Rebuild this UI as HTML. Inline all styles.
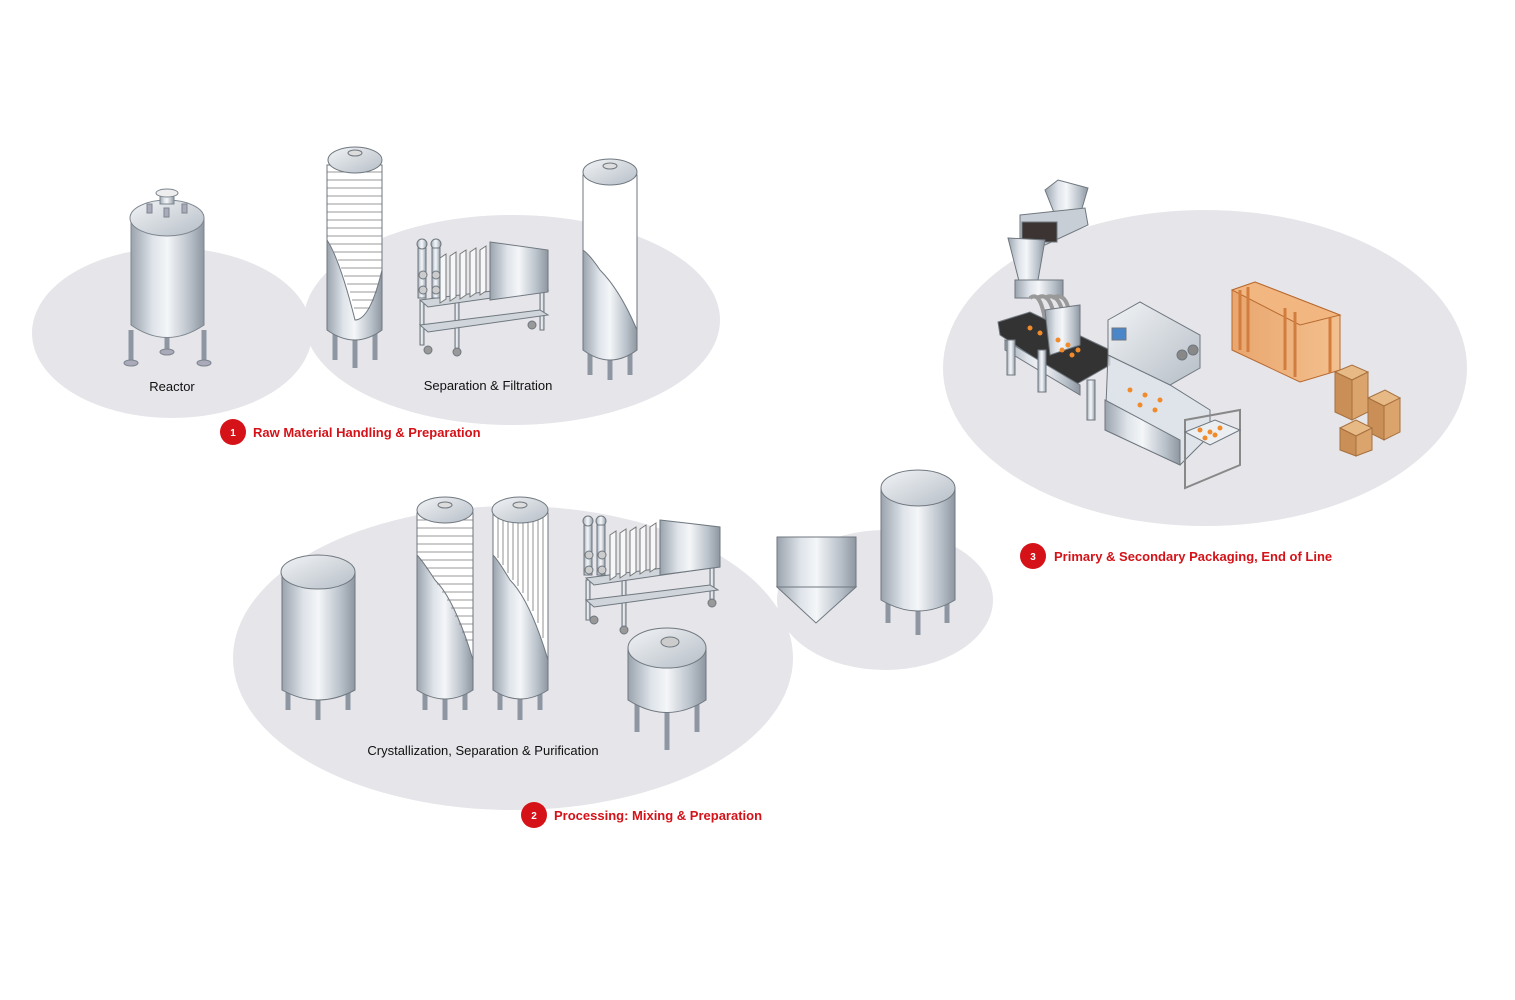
<!DOCTYPE html>
<html><head><meta charset="utf-8"><style>
html,body{margin:0;padding:0;background:#fff;}
svg{display:block;}
text{font-family:"Liberation Sans",Arial,sans-serif;}
</style></head><body>
<svg width="1515" height="1000" viewBox="0 0 1515 1000" xmlns="http://www.w3.org/2000/svg">
<defs>
<linearGradient id="m" x1="0" x2="1" y1="0" y2="0">
<stop offset="0" stop-color="#9aa3ad"/><stop offset="0.3" stop-color="#dfe4ea"/><stop offset="0.5" stop-color="#f4f6f8"/><stop offset="0.8" stop-color="#b9c1ca"/><stop offset="1" stop-color="#8e97a1"/></linearGradient>
<linearGradient id="d" x1="0" x2="1" y1="0" y2="1">
<stop offset="0" stop-color="#f2f4f6"/><stop offset="1" stop-color="#b6bec7"/></linearGradient>
<linearGradient id="w" x1="0" x2="1"><stop offset="0" stop-color="#e9a66e"/><stop offset="1" stop-color="#f3c08e"/></linearGradient>
</defs>
<g fill="#e5e5ea">
<ellipse cx="172" cy="333" rx="140" ry="85"/>
<ellipse cx="512" cy="320" rx="208" ry="105"/>
<ellipse cx="1205" cy="368" rx="262" ry="158"/>
<ellipse cx="513" cy="658" rx="280" ry="152"/>
<ellipse cx="885" cy="600" rx="108" ry="70"/>
</g>

<!-- Reactor -->
<g stroke="#7d858e" stroke-width="1">
<line x1="131" y1="330" x2="131" y2="362" stroke="#8e97a1" stroke-width="5"/>
<line x1="204" y1="330" x2="204" y2="362" stroke="#8e97a1" stroke-width="5"/>
<line x1="167" y1="330" x2="167" y2="352" stroke="#8e97a1" stroke-width="5"/>
<ellipse cx="131" cy="363" rx="7" ry="3" fill="#aab"/><ellipse cx="204" cy="363" rx="7" ry="3" fill="#aab"/><ellipse cx="167" cy="352" rx="7" ry="3" fill="#aab"/>
<path d="M131 218 L131 325 Q167 350 204 325 L204 218 Z" fill="url(#m)"/>
<ellipse cx="167" cy="218" rx="37" ry="18" fill="url(#d)"/>
<rect x="160" y="192" width="14" height="12" fill="url(#m)"/><ellipse cx="167" cy="193" rx="11" ry="4" fill="#eee"/>
<rect x="147" y="204" width="5" height="9" fill="#aab"/><rect x="182" y="204" width="5" height="9" fill="#aab"/><rect x="164" y="208" width="5" height="9" fill="#aab"/>
</g>
<!-- Tall coiled column -->
<g stroke="#6f777f">
<line x1="335" y1="330" x2="335" y2="360" stroke="#8e97a1" stroke-width="5"/><line x1="355" y1="330" x2="355" y2="368" stroke="#8e97a1" stroke-width="5"/><line x1="375" y1="330" x2="375" y2="360" stroke="#8e97a1" stroke-width="5"/>
<path d="M327 165 L327 330 Q355 350 382 330 L382 165 Z" fill="url(#m)"/>
<path d="M327 165 L382 165 L382 270 Q370 320 355 320 Q340 260 327 240 Z" fill="#fff"/>
<g stroke="#777" stroke-width="0.8">
<path d="M327 172h55M327 180h55M327 188h55M327 196h55M327 204h55M327 212h55M327 220h55M327 228h55M327 236h55M330 244h52M334 252h48M338 260h44M341 268h41M344 276h37M347 284h32M350 292h27M352 300h22M354 308h16"/></g>
<ellipse cx="355" cy="160" rx="27" ry="13" fill="url(#d)"/><ellipse cx="355" cy="153" rx="7" ry="3" fill="#ddd"/>
</g>
<!-- Filter press 1 -->
<g stroke="#6f777f" fill="url(#m)">
<rect x="420" y="300" width="4" height="45"/><rect x="540" y="285" width="4" height="45"/><rect x="455" y="300" width="4" height="50"/>
<path d="M420 325 L540 310 L548 315 L428 332 Z" fill="#cfd5db"/>
<path d="M420 300 L540 285 L548 290 L428 307 Z" fill="#cfd5db"/>
<circle cx="428" cy="350" r="4" fill="#999"/><circle cx="457" cy="352" r="4" fill="#999"/><circle cx="532" cy="325" r="4" fill="#999"/>
<path d="M490 242 L548 250 L548 292 L490 300 Z"/>
<g fill="#f6f7f8" stroke="#777"><path d="M440 258 l6 -4 v45 l-6 4z M450 256 l6 -4 v45 l-6 4z M460 254 l6 -4 v45 l-6 4z M470 252 l6 -4 v45 l-6 4z M480 250 l6 -4 v45 l-6 4z"/></g>
<rect x="418" y="248" width="8" height="50"/><circle cx="422" cy="244" r="5"/><circle cx="436" cy="244" r="5"/><rect x="432" y="248" width="8" height="50"/>
<circle cx="423" cy="275" r="4" fill="#ccc"/><circle cx="423" cy="290" r="4" fill="#ccc"/><circle cx="436" cy="275" r="4" fill="#ccc"/><circle cx="436" cy="290" r="4" fill="#ccc"/>
</g>
<!-- Right column sep -->
<g stroke="#6f777f">
<line x1="590" y1="345" x2="590" y2="375" stroke="#8e97a1" stroke-width="5"/><line x1="610" y1="345" x2="610" y2="380" stroke="#8e97a1" stroke-width="5"/><line x1="630" y1="345" x2="630" y2="375" stroke="#8e97a1" stroke-width="5"/>
<path d="M583 175 L583 350 Q610 370 637 350 L637 175 Z" fill="url(#m)"/>
<path d="M583 175 L637 175 L637 330 Q620 290 600 270 Q590 255 583 250 Z" fill="#fff"/>
<ellipse cx="610" cy="172" rx="27" ry="13" fill="url(#d)"/><ellipse cx="610" cy="166" rx="7" ry="3" fill="#ddd"/>
</g>

<!-- Row 2 tanks -->
<g stroke="#6f777f">
<line x1="288" y1="690" x2="288" y2="710" stroke="#8e97a1" stroke-width="5"/><line x1="318" y1="690" x2="318" y2="720" stroke="#8e97a1" stroke-width="5"/><line x1="348" y1="690" x2="348" y2="710" stroke="#8e97a1" stroke-width="5"/>
<path d="M282 572 L282 690 Q318 710 355 690 L355 572 Z" fill="url(#m)"/>
<ellipse cx="318" cy="572" rx="37" ry="17" fill="url(#d)"/>
</g>
<g stroke="#6f777f">
<line x1="425" y1="685" x2="425" y2="710" stroke="#8e97a1" stroke-width="5"/><line x1="445" y1="685" x2="445" y2="720" stroke="#8e97a1" stroke-width="5"/><line x1="465" y1="685" x2="465" y2="710" stroke="#8e97a1" stroke-width="5"/>
<path d="M417 513 L417 690 Q445 708 473 690 L473 513 Z" fill="url(#m)"/>
<path d="M417 513 L473 513 L473 660 Q455 600 435 580 Q422 560 417 555 Z" fill="#fff"/>
<g stroke="#777" stroke-width="0.8"><path d="M417 520h56M417 528h56M417 536h56M417 544h56M417 552h56M420 560h53M426 568h47M432 576h41M437 584h36M442 592h31M447 600h26M451 608h22M455 616h18M459 624h14M462 632h11M465 640h8"/></g>
<ellipse cx="445" cy="510" rx="28" ry="13" fill="url(#d)"/><ellipse cx="445" cy="505" rx="7" ry="3" fill="#ddd"/>
</g>
<g stroke="#6f777f">
<line x1="500" y1="685" x2="500" y2="710" stroke="#8e97a1" stroke-width="5"/><line x1="520" y1="685" x2="520" y2="720" stroke="#8e97a1" stroke-width="5"/><line x1="540" y1="685" x2="540" y2="710" stroke="#8e97a1" stroke-width="5"/>
<path d="M493 513 L493 690 Q520 708 548 690 L548 513 Z" fill="url(#m)"/>
<path d="M493 513 L548 513 L548 660 Q530 600 510 580 Q498 560 493 555 Z" fill="#fff"/>
<g stroke="#777" stroke-width="0.8"><path d="M498 513v45M503 513v52M508 513v60M513 513v67M518 513v73M523 513v80M528 513v88M533 513v98M538 513v110M543 513v125"/></g>
<ellipse cx="520" cy="510" rx="28" ry="13" fill="url(#d)"/><ellipse cx="520" cy="505" rx="7" ry="3" fill="#ddd"/>
</g>
<!-- Filter press 2 -->
<g stroke="#6f777f" fill="url(#m)">
<rect x="586" y="580" width="4" height="40"/><rect x="710" y="562" width="4" height="40"/><rect x="622" y="580" width="4" height="48"/>
<path d="M586 600 L710 585 L718 590 L594 607 Z" fill="#cfd5db"/>
<path d="M586 578 L710 562 L718 567 L594 585 Z" fill="#cfd5db"/>
<circle cx="594" cy="620" r="4" fill="#999"/><circle cx="624" cy="630" r="4" fill="#999"/><circle cx="712" cy="603" r="4" fill="#999"/>
<path d="M660 520 L720 527 L720 567 L660 575 Z"/>
<g fill="#f6f7f8" stroke="#777"><path d="M610 535 l6 -4 v45 l-6 4z M620 533 l6 -4 v45 l-6 4z M630 531 l6 -4 v45 l-6 4z M640 529 l6 -4 v45 l-6 4z M650 527 l6 -4 v45 l-6 4z"/></g>
<rect x="584" y="525" width="8" height="50"/><circle cx="588" cy="521" r="5"/><circle cx="601" cy="521" r="5"/><rect x="597" y="525" width="8" height="50"/>
<circle cx="589" cy="555" r="4" fill="#ccc"/><circle cx="589" cy="570" r="4" fill="#ccc"/><circle cx="602" cy="555" r="4" fill="#ccc"/><circle cx="602" cy="570" r="4" fill="#ccc"/>
</g>
<!-- small tank -->
<g stroke="#6f777f">
<line x1="637" y1="700" x2="637" y2="732" stroke="#8e97a1" stroke-width="5"/><line x1="667" y1="700" x2="667" y2="750" stroke="#8e97a1" stroke-width="5"/><line x1="697" y1="700" x2="697" y2="732" stroke="#8e97a1" stroke-width="5"/>
<path d="M628 648 L628 700 Q667 725 706 700 L706 648 Z" fill="url(#m)"/>
<ellipse cx="667" cy="648" rx="39" ry="20" fill="url(#d)"/><ellipse cx="670" cy="642" rx="9" ry="5" fill="#ccc"/>
</g>
<!-- hopper -->
<g stroke="#6f777f">
<rect x="777" y="537" width="79" height="50" fill="url(#m)"/>
<path d="M777 587 L856 587 L816 623 Z" fill="url(#m)"/>
</g>
<!-- big tank right -->
<g stroke="#6f777f">
<line x1="888" y1="600" x2="888" y2="623" stroke="#8e97a1" stroke-width="5"/><line x1="918" y1="600" x2="918" y2="635" stroke="#8e97a1" stroke-width="5"/><line x1="947" y1="600" x2="947" y2="623" stroke="#8e97a1" stroke-width="5"/>
<path d="M881 488 L881 600 Q918 622 955 600 L955 488 Z" fill="url(#m)"/>
<ellipse cx="918" cy="488" rx="37" ry="18" fill="url(#d)"/>
</g>

<!-- Packaging line -->
<g stroke="#6f777f">
<path d="M1045 190 L1058 180 L1088 188 L1080 215 L1055 215 Z" fill="url(#m)"/>
<path d="M1020 215 L1085 208 L1088 225 L1045 245 L1020 240 Z" fill="#c7ced5"/>
<rect x="1022" y="222" width="35" height="20" fill="#3b3432"/>
<path d="M1008 238 L1045 240 L1038 280 L1020 285 Z" fill="url(#m)"/>
<rect x="1015" y="280" width="48" height="18" fill="url(#m)"/>
<path d="M1030 298 Q1040 290 1045 320 M1037 298 Q1050 290 1055 320 M1044 298 Q1060 290 1064 320 M1052 298 Q1068 290 1070 320" fill="none" stroke="#999" stroke-width="4"/>
<path d="M998 322 L1030 312 L1110 350 L1110 365 L1075 385 L1000 335 Z" fill="#333"/>
<path d="M1005 340 L1080 385 L1080 395 L1005 350 Z" fill="url(#m)"/>
<rect x="1007" y="340" width="8" height="35" fill="url(#m)"/><rect x="1038" y="350" width="8" height="42" fill="url(#m)"/><rect x="1087" y="380" width="8" height="40" fill="url(#m)"/>
<path d="M1045 310 L1080 305 L1080 345 L1050 355 Z" fill="url(#m)"/>
<path d="M1108 320 L1140 302 L1200 335 L1200 368 L1170 385 L1108 355 Z" fill="url(#d)"/>
<rect x="1112" y="328" width="14" height="12" fill="#4a86c8"/>
<circle cx="1182" cy="355" r="5" fill="#888"/><circle cx="1193" cy="350" r="5" fill="#888"/>
<path d="M1108 355 L1170 385 L1210 410 L1210 435 L1180 465 L1105 430 Z" fill="#dde3ea" fill-opacity="0.8"/>
<path d="M1105 400 L1180 440 L1180 465 L1105 430 Z" fill="url(#m)"/>
<path d="M1185 420 L1240 410 L1240 465 L1185 488 Z" fill="none" stroke="#888" stroke-width="2"/>
<path d="M1185 432 L1215 420 L1240 430 L1210 445 Z" fill="#eceff2"/>
</g>
<g fill="#f08a2a">
<circle cx="1030" cy="328" r="2.5"/><circle cx="1040" cy="333" r="2.5"/><circle cx="1058" cy="340" r="2.5"/><circle cx="1068" cy="345" r="2.5"/><circle cx="1078" cy="350" r="2.5"/><circle cx="1062" cy="350" r="2.5"/><circle cx="1072" cy="355" r="2.5"/>
<circle cx="1130" cy="390" r="2.5"/><circle cx="1145" cy="395" r="2.5"/><circle cx="1160" cy="400" r="2.5"/><circle cx="1140" cy="405" r="2.5"/><circle cx="1155" cy="410" r="2.5"/>
<circle cx="1200" cy="430" r="2.5"/><circle cx="1210" cy="432" r="2.5"/><circle cx="1220" cy="428" r="2.5"/><circle cx="1205" cy="438" r="2.5"/><circle cx="1215" cy="435" r="2.5"/>
</g>
<!-- crate -->
<g stroke="#b86a30" stroke-width="1">
<path d="M1232 290 L1255 282 L1340 315 L1340 370 L1300 382 L1232 350 Z" fill="url(#w)"/>
<path d="M1232 290 L1255 282 L1340 315 L1300 325 Z" fill="#f2b780"/>
<path d="M1240 290 v60 M1248 287 v65 M1285 308 v62 M1295 312 v65 M1330 318 v55" stroke="#d27c3e" stroke-width="3"/>
</g>
<g stroke="#a6703e">
<path d="M1335 372 L1352 365 L1368 372 L1352 380 Z" fill="#e7b985"/>
<path d="M1335 372 L1352 380 L1352 420 L1335 412 Z" fill="#c98f57"/>
<path d="M1352 380 L1368 372 L1368 412 L1352 420 Z" fill="#dba46c"/>
<path d="M1368 398 L1385 390 L1400 398 L1384 406 Z" fill="#e7b985"/>
<path d="M1368 398 L1384 406 L1384 440 L1368 432 Z" fill="#c98f57"/>
<path d="M1384 406 L1400 398 L1400 432 L1384 440 Z" fill="#dba46c"/>
<path d="M1340 428 L1356 420 L1372 428 L1356 436 Z" fill="#e7b985"/>
<path d="M1340 428 L1356 436 L1356 456 L1340 450 Z" fill="#c98f57"/>
<path d="M1356 436 L1372 428 L1372 450 L1356 456 Z" fill="#dba46c"/>
</g>

<!-- Labels -->
<g font-size="13" fill="#111" text-anchor="middle">
<text x="172" y="391">Reactor</text>
<text x="488" y="390">Separation &amp; Filtration</text>
<text x="483" y="755">Crystallization, Separation &amp; Purification</text>
</g>
<g font-size="13" font-weight="bold" fill="#d41218">
<circle cx="233" cy="432" r="13"/><circle cx="534" cy="815" r="13"/><circle cx="1033" cy="556" r="13"/>
<text x="253" y="437">Raw Material Handling &amp; Preparation</text>
<text x="554" y="820">Processing: Mixing &amp; Preparation</text>
<text x="1054" y="561">Primary &amp; Secondary Packaging, End of Line</text>
</g>
<g font-size="10" font-weight="bold" fill="#fff" text-anchor="middle">
<text x="233" y="436">1</text><text x="534" y="819">2</text><text x="1033" y="560">3</text>
</g>
</svg>
</body></html>
